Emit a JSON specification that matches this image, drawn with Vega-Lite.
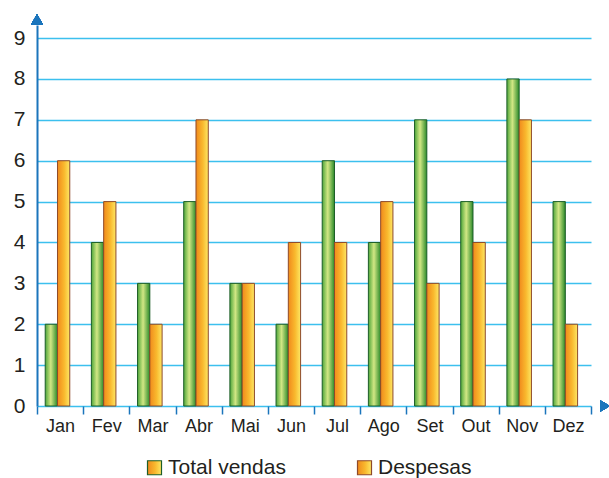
{
  "$schema": "https://vega.github.io/schema/vega-lite/v6.json",
  "width": 568,
  "height": 381,
  "autosize": "none",
  "padding": {"left": 37, "top": 25, "right": 4, "bottom": 72},
  "background": "white",
  "config": {
    "font": "Liberation Sans",
    "view": {"stroke": null}
  },
  "data": {
    "values": [
      {"mes": "Jan", "serie": "Total vendas", "valor": 2},
      {"mes": "Jan", "serie": "Despesas", "valor": 6},
      {"mes": "Fev", "serie": "Total vendas", "valor": 4},
      {"mes": "Fev", "serie": "Despesas", "valor": 5},
      {"mes": "Mar", "serie": "Total vendas", "valor": 3},
      {"mes": "Mar", "serie": "Despesas", "valor": 2},
      {"mes": "Abr", "serie": "Total vendas", "valor": 5},
      {"mes": "Abr", "serie": "Despesas", "valor": 7},
      {"mes": "Mai", "serie": "Total vendas", "valor": 3},
      {"mes": "Mai", "serie": "Despesas", "valor": 3},
      {"mes": "Jun", "serie": "Total vendas", "valor": 2},
      {"mes": "Jun", "serie": "Despesas", "valor": 4},
      {"mes": "Jul", "serie": "Total vendas", "valor": 6},
      {"mes": "Jul", "serie": "Despesas", "valor": 4},
      {"mes": "Ago", "serie": "Total vendas", "valor": 4},
      {"mes": "Ago", "serie": "Despesas", "valor": 5},
      {"mes": "Set", "serie": "Total vendas", "valor": 7},
      {"mes": "Set", "serie": "Despesas", "valor": 3},
      {"mes": "Out", "serie": "Total vendas", "valor": 5},
      {"mes": "Out", "serie": "Despesas", "valor": 4},
      {"mes": "Nov", "serie": "Total vendas", "valor": 8},
      {"mes": "Nov", "serie": "Despesas", "valor": 7},
      {"mes": "Dez", "serie": "Total vendas", "valor": 5},
      {"mes": "Dez", "serie": "Despesas", "valor": 2}
    ]
  },
  "layer": [
    {
      "encoding": {
        "x": {
          "field": "mes",
          "type": "nominal",
          "sort": ["Jan","Fev","Mar","Abr","Mai","Jun","Jul","Ago","Set","Out","Nov","Dez"],
          "scale": {"type": "band", "paddingInner": 0, "paddingOuter": 0, "range": [0, 554]},
          "axis": {
            "title": null,
            "domain": false,
            "ticks": true,
            "tickBand": "extent",
            "tickColor": "#1b75bc",
            "tickWidth": 1.5,
            "tickSize": 8,
            "labelAngle": 0,
            "labelFontSize": 18,
            "labelColor": "#231f20",
            "labelPadding": 3,
            "labelDx": -2,
            "grid": false
          }
        },
        "xOffset": {
          "field": "serie",
          "type": "nominal",
          "sort": ["Total vendas", "Despesas"],
          "scale": {"paddingInner": 0, "paddingOuter": 0.88, "align": 0.38}
        },
        "y": {
          "field": "valor",
          "type": "quantitative",
          "scale": {"domain": [0, 9.32], "nice": false, "zero": true},
          "axis": {
            "title": null,
            "values": [0,1,2,3,4,5,6,7,8,9],
            "domain": true,
            "domainColor": "#1b75bc",
            "domainWidth": 2,
            "ticks": false,
            "labelFontSize": 21,
            "labelColor": "#231f20",
            "labelPadding": 12,
            "grid": true,
            "gridColor": "#3cc0ee",
            "gridWidth": 1.5
          }
        }
      },
      "layer": [
        {
          "mark": {"type": "bar", "strokeWidth": 1},
          "encoding": {
            "fill": {
              "condition": {"test": "datum.serie === 'Total vendas'", "value": {"gradient": "linear", "x1": 0, "y1": 0, "x2": 1, "y2": 0,
                "stops": [{"offset": 0, "color": "#4ea63a"}, {"offset": 0.45, "color": "#d2e784"}, {"offset": 1, "color": "#2b8a2a"}]}},
              "value": {"gradient": "linear", "x1": 0, "y1": 0, "x2": 1, "y2": 0,
                "stops": [{"offset": 0, "color": "#f08a1c"}, {"offset": 0.55, "color": "#f9b92e"}, {"offset": 1, "color": "#fde764"}]}
            },
            "stroke": {
              "field": "serie",
              "type": "nominal",
              "sort": ["Total vendas", "Despesas"],
              "scale": {"domain": ["Total vendas", "Despesas"], "range": ["#1d5e28", "#8e4a2a"]},
              "legend": {
                "title": null,
                "orient": "none",
                "legendX": 107,
                "legendY": 432,
                "direction": "horizontal",
                "symbolType": "square",
                "symbolSize": 196,
                "symbolStrokeWidth": 1.2,
                "labelFontSize": 21,
                "labelColor": "#231f20",
                "labelOffset": 3,
                "columnPadding": 68,
                "encode": {
                  "symbols": {
                    "update": {
                      "fill": [
                        {"test": "datum.value === 'Total vendas'", "value": {"gradient": "linear", "x1": 0, "y1": 0, "x2": 1, "y2": 0,
                          "stops": [{"offset": 0, "color": "#3c962f"}, {"offset": 0.5, "color": "#d7ea8c"}, {"offset": 1, "color": "#4ea63a"}]}},
                        {"value": {"gradient": "linear", "x1": 0, "y1": 0, "x2": 1, "y2": 0,
                          "stops": [{"offset": 0, "color": "#f08a1c"}, {"offset": 0.55, "color": "#f9b92e"}, {"offset": 1, "color": "#fde764"}]}}
                      ],
                      "strokeWidth": {"value": 1.2}
                    }
                  }
                }
              }
            }
          }
        },
        {
          "mark": {"type": "rule", "color": "#1b75bc", "strokeWidth": 2},
          "encoding": {"y": {"datum": 0}}
        }
      ]
    },
    {
      "mark": {"type": "point", "shape": "triangle-up", "filled": true, "color": "#1b75bc", "size": 130, "opacity": 1},
      "encoding": {
        "x": {"datum": 0, "type": "quantitative", "scale": {"domain": [0, 1]}, "axis": null},
        "y": {"datum": 9.46, "type": "quantitative"}
      }
    },
    {
      "mark": {"type": "point", "shape": "triangle-right", "filled": true, "color": "#1b75bc", "size": 130, "opacity": 1},
      "encoding": {
        "x": {"datum": 1, "type": "quantitative", "scale": {"domain": [0, 1]}, "axis": null},
        "y": {"datum": 0, "type": "quantitative"}
      }
    }
  ],
  "resolve": {"scale": {"x": "independent"}}
}
